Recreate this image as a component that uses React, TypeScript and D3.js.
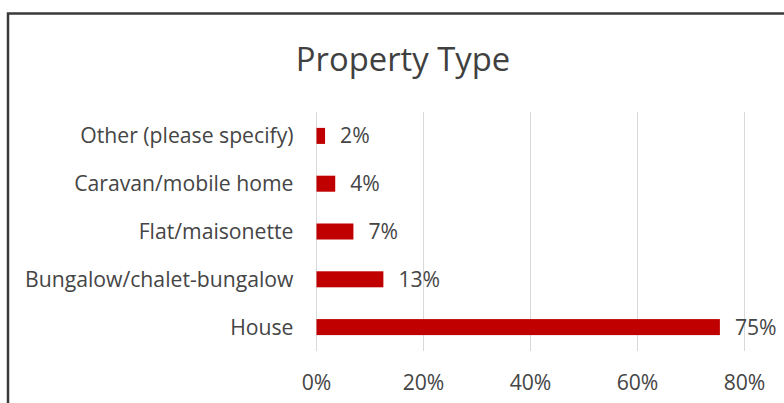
import React from "react";
import * as d3 from "d3";

const categories = ["Other (please specify)", "Caravan/mobile home", "Flat/maisonette", "Bungalow/chalet-bungalow", "House"];
const values = [1.6, 3.5, 6.9, 12.5, 75.4];
const valueLabels = ["2%", "4%", "7%", "13%", "75%"];
const ticks = [0, 20, 40, 60, 80];
const title = "Property Type";

const W = 784;
const H = 403;
const FONT = "'Open Sans', sans-serif";
const FS = 21.2;

export default function App() {
  const x = d3.scaleLinear().domain([0, 80]).range([316.5, 744.5]);
  const y = d3.scaleBand<string>().domain(categories).range([112, 351]).paddingInner(0.665).paddingOuter(0.3325);
  return (
    <svg width={W} height={H} style={{ position: "absolute", left: 0, top: 0, background: "#fff" }}>
      <rect x={0} y={0} width={W} height={H} fill="#fff" />
      <path d={`M8,${H + 5} L8,13.5 L${W + 5},13.5`} fill="none" stroke="#3b3b3b" strokeWidth={2.5} />
      <text x={403} y={70.5} textAnchor="middle" fontFamily={FONT} fontSize={32.8} fill="#404040">{title}</text>
      {ticks.map((t) => (
        <g key={t}>
          <line x1={x(t)} x2={x(t)} y1={112} y2={351} stroke="#d9d9d9" strokeWidth={1} />
          <text x={x(t)} y={389.5} textAnchor="middle" fontFamily={FONT} fontSize={FS} fill="#454545">{t}%</text>
        </g>
      ))}
      {categories.map((c, i) => {
        const yy = y(c)!;
        const bw = y.bandwidth();
        return (
          <g key={c}>
            <rect x={x(0)} y={yy} width={x(values[i]) - x(0)} height={bw} fill="#c00000" />
            <text x={293.5} y={yy + bw / 2} dy="0.35em" textAnchor="end" fontFamily={FONT} fontSize={FS} fill="#454545">{c}</text>
            <text x={x(values[i]) + 15} y={yy + bw / 2} dy="0.35em" textAnchor="start" fontFamily={FONT} fontSize={FS} fill="#454545">{valueLabels[i]}</text>
          </g>
        );
      })}
    </svg>
  );
}
